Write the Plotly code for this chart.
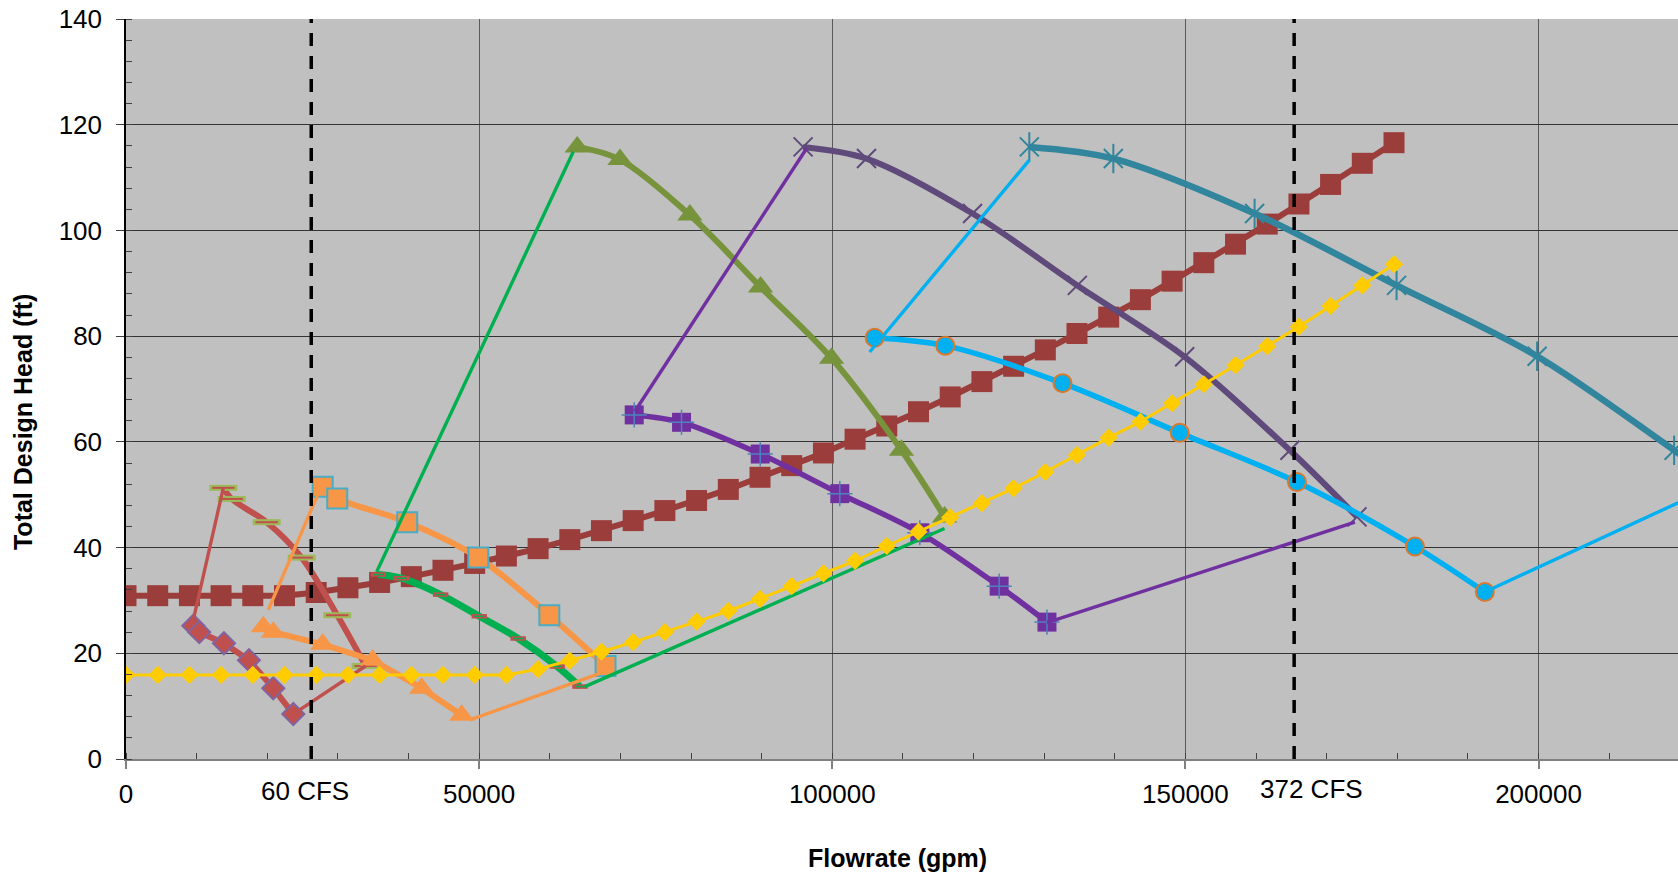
import plotly.graph_objects as go

# ---- system curves (flow in gpm, head in ft) ----
sys_flow = [0, 4490, 8980, 13460, 17950, 22440, 26930, 31420, 35910, 40400,
            44880, 49370, 53860, 58350, 62840, 67320, 71810, 76300, 80790, 85280,
            89770, 94260, 98750, 103230, 107720, 112210, 116700, 121190, 125680, 130170,
            134650, 139140, 143630, 148120, 152610, 157100, 161590, 166080, 170560, 175050,
            179540]
sys_high_head = [30.9, 30.9, 30.9, 30.9, 30.9, 30.9, 31.5, 32.4, 33.4, 34.5,
                 35.7, 37.0, 38.4, 39.8, 41.5, 43.2, 45.1, 47.0, 48.9, 51.0,
                 53.3, 55.5, 57.9, 60.5, 63.0, 65.7, 68.5, 71.4, 74.3, 77.4,
                 80.5, 83.6, 86.9, 90.4, 93.9, 97.4, 101.2, 105.0, 108.7, 112.7,
                 116.6]
sys_low_head = [15.9, 15.9, 15.9, 15.9, 15.9, 15.9, 15.9, 15.9, 15.9, 15.9,
                15.9, 15.9, 15.9, 17.0, 18.6, 20.3, 22.1, 24.0, 26.0, 28.0,
                30.3, 32.7, 35.1, 37.5, 40.3, 43.0, 45.7, 48.4, 51.2, 54.3,
                57.5, 60.8, 63.8, 67.3, 70.9, 74.5, 78.1, 81.8, 85.7, 89.6,
                93.6]

# ---- pump curves: minimum and maximum speed ----
a_min_q = [9530, 10380, 13870, 17410, 20850, 23690]
a_min_h = [25.2, 24.0, 21.9, 18.7, 13.4, 8.5]
a_max_q = [13780, 14960, 19920, 24870, 29910, 33930]
a_max_h = [51.3, 49.2, 44.8, 38.1, 27.2, 17.6]

b_min_q = [19440, 20850, 27850, 34920, 41860, 47520]
b_min_h = [25.0, 24.0, 21.7, 18.7, 13.4, 8.3]
b_max_q = [27850, 29910, 39820, 49880, 59940, 67900]
b_max_h = [51.5, 49.3, 44.8, 38.1, 27.2, 17.6]

c_min_q = [35720, 39020, 44550, 50020, 55530, 61050, 64270]
c_min_h = [34.9, 34.2, 31.1, 27.0, 22.8, 17.5, 13.7]
c_max_q = [63890, 69940, 79840, 89850, 99900, 109800, 115900]
c_max_h = [115.8, 113.4, 102.9, 89.3, 75.8, 58.4, 45.8]

d_min_q = [71960, 78660, 89800, 101070, 112400, 123630, 130400]
d_min_h = [65.1, 63.7, 57.7, 50.2, 42.8, 32.7, 25.9]
d_max_q = [95870, 104850, 119860, 134700, 149900, 164800, 174300]
d_max_h = [115.8, 113.6, 103.2, 89.6, 76.1, 58.4, 45.8]

e_min_q = [106000, 116000, 132600, 149200, 165800, 182500, 192400]
e_min_h = [79.7, 78.2, 71.1, 61.7, 52.4, 40.2, 31.6]
e_max_q = [127900, 139800, 159800, 179900, 199800, 219200, 232500]
e_max_h = [115.8, 113.6, 103.2, 89.6, 76.2, 58.4, 45.8]

# ---- operating envelope edges (thin connecting lines) ----
a_left_q, a_left_h = [9530, 13780], [26.3, 51.3]
a_right_q, a_right_h = [23690, 33930], [8.5, 17.6]
b_left_q, b_left_h = [20150, 27220], [28.2, 50.2]
b_right_q, b_right_h = [48700, 67100], [7.4, 16.2]
c_left_q, c_left_h = [35490, 63330], [35.4, 114.9]
c_right_q, c_right_h = [64980, 115900], [13.7, 43.6]
d_left_q, d_left_h = [72060, 96360], [65.8, 115.5]
d_right_q, d_right_h = [130400, 174000], [25.8, 44.8]
e_left_q, e_left_h = [105300, 127900], [77.0, 113.3]
e_right_q, e_right_h = [192400, 225000], [31.6, 51.7]

# ---- reference flows ----
ref_flows = [26230, 165400]
ref_labels = ["60 CFS", "372 CFS"]
ref_shifts = [-6, 17]
ref_ypos = [-0.0435, -0.0405]

x_ticks = [0, 50000, 100000, 150000, 200000]
y_ticks = [0, 20, 40, 60, 80, 100, 120, 140]

FONT = "Arial, 'Liberation Sans', sans-serif"

fig = go.Figure()


def curve(q, h, color, width, marker=None, shape="spline"):
    fig.add_trace(go.Scatter(
        x=q, y=h, mode="lines+markers" if marker else "lines",
        line=dict(color=color, width=width, shape=shape, smoothing=0.9),
        marker=marker, hoverinfo="skip", showlegend=False))


def overlay(q, h, marker):
    fig.add_trace(go.Scatter(x=q, y=h, mode="markers", marker=marker,
                             hoverinfo="skip", showlegend=False))


# high system curve
curve(sys_flow, sys_high_head, "#9B3D3B", 6,
      dict(symbol="square", size=21, color="#9B3D3B"), shape="linear")

# pump A
curve(a_min_q, a_min_h, "#C0504D", 6,
      dict(symbol="diamond", size=17, color="#C0504D",
           line=dict(color="#8064A2", width=2)), shape="linear")
curve(a_max_q, a_max_h, "#C0504D", 6)
overlay(a_max_q, a_max_h, dict(symbol="line-ew", size=20,
                               line=dict(color="#9BBB59", width=6)))
overlay(a_max_q, a_max_h, dict(symbol="line-ew", size=16,
                               line=dict(color="#C0504D", width=2)))

# pump B
curve(b_min_q, b_min_h, "#F79646", 6,
      dict(symbol="triangle-up", size=22, color="#F79646"), shape="linear")
curve(b_max_q, b_max_h, "#F79646", 6,
      dict(symbol="square", size=20, color="#F79646",
           line=dict(color="#4BACC6", width=2)))

# pump C
curve(c_min_q, c_min_h, "#00B050", 7)
overlay(c_min_q, c_min_h, dict(symbol="line-ew", size=11,
                               line=dict(color="#C0504D", width=4.5)))
overlay(c_min_q, c_min_h, dict(symbol="line-ew", size=7,
                               line=dict(color="#00B050", width=1.5)))
curve(c_max_q, c_max_h, "#77933C", 6,
      dict(symbol="triangle-up", size=22, color="#77933C"))

# pump D
curve(d_min_q, d_min_h, "#7030A0", 5.5,
      dict(symbol="square", size=19, color="#7030A0"))
overlay(d_min_q, d_min_h, dict(symbol="cross-thin", size=18,
                               line=dict(color="#4F81BD", width=1.5)))
curve(d_max_q, d_max_h, "#604A7B", 6,
      dict(symbol="x-thin", size=19, line=dict(color="#604A7B", width=2)))

# pump E
curve(e_min_q, e_min_h, "#00B0F0", 5.5,
      dict(symbol="circle", size=18, color="#00B0F0",
           line=dict(color="#D9782F", width=2)))
curve(e_max_q, e_max_h, "#31859C", 6.5,
      dict(symbol="x-thin", size=19, line=dict(color="#31859C", width=2)))
overlay(e_max_q, e_max_h, dict(symbol="line-ns", size=21,
                               line=dict(color="#31859C", width=2)))

# envelope edges
for q, h, col in [(a_left_q, a_left_h, "#C0504D"), (a_right_q, a_right_h, "#C0504D"),
                  (b_left_q, b_left_h, "#F79646"), (b_right_q, b_right_h, "#F79646"),
                  (c_left_q, c_left_h, "#00B050"), (c_right_q, c_right_h, "#00B050"),
                  (d_left_q, d_left_h, "#7030A0"), (d_right_q, d_right_h, "#7030A0"),
                  (e_left_q, e_left_h, "#00B0F0"), (e_right_q, e_right_h, "#00B0F0")]:
    curve(q, h, col, 3.4, shape="linear")

# low system curve
curve(sys_flow, sys_low_head, "#FFCC00", 3,
      dict(symbol="diamond", size=14, color="#FFCC00"), shape="linear")

# reference flow markers
for xv, lab, sh, yp in zip(ref_flows, ref_labels, ref_shifts, ref_ypos):
    fig.add_shape(type="line", x0=xv, x1=xv, y0=0, y1=1, xref="x", yref="paper",
                  line=dict(color="black", width=3.5, dash="13px,10px"))
    fig.add_annotation(x=xv, y=yp, xref="x", yref="paper", text=lab,
                       showarrow=False, xshift=sh, xanchor="center", yanchor="middle",
                       font=dict(family=FONT, size=26, color="black"))

fig.add_annotation(x=-0.0667, y=0.456, xref="paper", yref="paper",
                   text="<b>Total Design Head (ft)</b>", textangle=-90, showarrow=False,
                   xanchor="center", yanchor="middle",
                   font=dict(family=FONT, size=25, color="black"))
fig.add_annotation(x=0.4971, y=-0.1335, xref="paper", yref="paper",
                   text="<b>Flowrate (gpm)</b>", showarrow=False,
                   xanchor="center", yanchor="middle",
                   font=dict(family=FONT, size=25, color="black"))

fig.update_layout(
    width=1678, height=876,
    margin=dict(l=126, r=0, t=19, b=117),
    paper_bgcolor="white", plot_bgcolor="#C0C0C0",
    showlegend=False,
    font=dict(family=FONT, size=26, color="black"),
)
fig.update_xaxes(
    range=[0, 219750], tickvals=x_ticks, ticktext=[str(v) for v in x_ticks],
    showgrid=True, gridcolor="#5A5A5A", gridwidth=1.3,
    showline=True, linecolor="#808080", linewidth=2,
    ticks="outside", ticklen=8, tickcolor="#808080", tickwidth=1.5,
    ticklabelstandoff=3,
    minor=dict(dtick=10000, ticks="inside", ticklen=6, tickcolor="#404040",
               tickwidth=1.3, showgrid=False),
    zeroline=False, tickfont=dict(family=FONT, size=26, color="black"),
)
fig.update_yaxes(
    range=[0, 140], tickvals=y_ticks,
    showgrid=True, gridcolor="#333333", gridwidth=1.3,
    showline=True, linecolor="black", linewidth=1.5,
    ticks="outside", ticklen=8, tickcolor="#404040", tickwidth=1.3,
    ticklabelstandoff=9,
    minor=dict(dtick=4, ticks="inside", ticklen=6, tickcolor="#404040",
               tickwidth=1.3, showgrid=False),
    zeroline=False, tickfont=dict(family=FONT, size=26, color="black"),
)

fig.write_html("out.html")
